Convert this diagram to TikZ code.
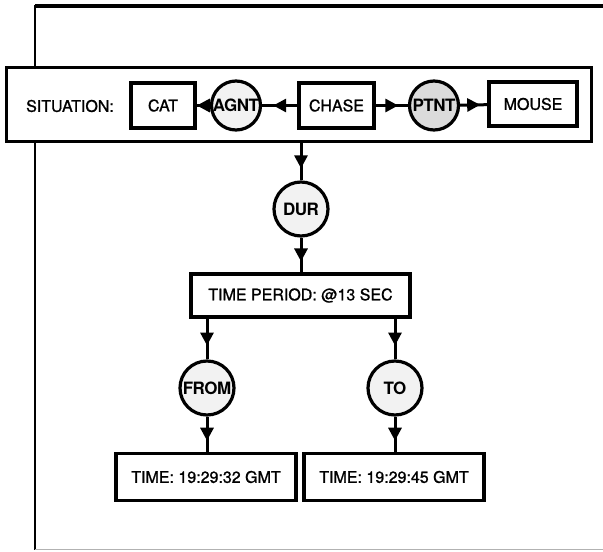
\documentclass[tikz,border=0pt]{standalone}
\usepackage{fontspec}
\setmainfont{TeX Gyre Heros}[BoldFont=TeX Gyre Heros, BoldFeatures={FakeBold=1.2}]
\newfontfamily\circfont{TeX Gyre Heros}[LetterSpace=-3]
\usetikzlibrary{arrows.meta,decorations.markings}
\begin{document}
\begin{tikzpicture}[x=1pt,y=-1pt,
  every node/.style={font=\bfseries\fontsize{16}{19}\selectfont},
  cbox/.style={draw,line width=3.4pt,fill=white,minimum height=45pt,inner sep=0pt},
  rel/.style={draw,circle,line width=3.2pt,fill=gray!10,minimum size=50pt,inner sep=0pt,
    font=\circfont\bfseries\fontsize{17}{19}\selectfont},
  link/.style={line width=3pt,postaction={decorate},
    decoration={markings,mark=at position 0.5 with {\arrow[xshift=6.5pt]{Triangle[length=13pt,width=13pt]}}}}
]
\useasboundingbox (0,0) rectangle (603,552);
% frame
\draw[line width=3.8pt] (35,6) -- (603,6);
\draw[line width=2.8pt] (35,4.5) -- (35,550);
\draw[gray!60,line width=0.8pt] (35,549.5) -- (603,549.5);
% situation box
\node[draw,line width=3.6pt,fill=white,minimum width=585pt,minimum height=74pt,inner sep=0pt] (sit) at (299,104.5) {};
\node (sitlab) at (70,106) {SITUATION:};
\node[cbox,minimum width=64pt] (cat) at (163,105.5) {CAT};
\node[rel,minimum size=49pt] (agnt) at (236,105.5) {AGNT};
\node[cbox,minimum width=75pt] (chase) at (336.5,105.5) {CHASE};
\node[rel,minimum size=49pt,fill=gray!28] (ptnt) at (434,105.5) {PTNT};
\node[cbox,minimum width=88pt,minimum height=44pt] (mouse) at (533,104) {MOUSE};
% lower graph
\node[rel,minimum size=54pt] (dur) at (301,209) {DUR};
\node[cbox,minimum width=219pt,minimum height=43pt] (tp) at (300.5,295.5) {TIME PERIOD: @13 SEC};
\node[rel,minimum size=54pt] (from) at (207,388) {FROM};
\node[rel,minimum size=54pt] (to) at (395,388) {TO};
\node[cbox,minimum width=180pt,minimum height=47pt] (t1) at (206,477) {TIME: 19:29:32 GMT};
\node[cbox,minimum width=180pt,minimum height=47pt] (t2) at (394,477) {TIME: 19:29:45 GMT};
% connectors
\draw[link] (agnt) -- (cat);
\draw[link] (chase) -- (agnt);
\draw[link] (chase) -- (ptnt);
\draw[link] (ptnt) -- (mouse);
\draw[link] (dur |- sit.south) -- (dur.north);
\draw[link] (dur.south) -- (dur |- tp.north);
\draw[link] (from |- tp.south) -- (from.north);
\draw[link] (to |- tp.south) -- (to.north);
\draw[link] (from.south) -- (from |- t1.north);
\draw[link] (to.south) -- (to |- t2.north);
\end{tikzpicture}
\end{document}
